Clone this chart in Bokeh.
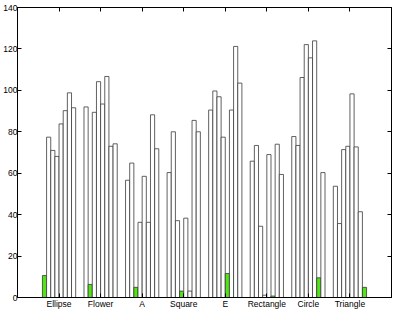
from bokeh.plotting import figure
from bokeh.models import Range1d, FixedTicker, LinearAxis, ColumnDataSource
from bokeh.embed import file_html
from bokeh.resources import INLINE

categories = ["Ellipse", "Flower", "A", "Square", "E", "Rectangle", "Circle", "Triangle"]

# bar j of each group (the j-th bar in group j is the highlighted one)
ellipse   = [10.6, 77.4, 71.0, 68.1, 83.8, 90.2, 98.8, 91.6]
flower    = [92.0, 6.3, 89.4, 104.2, 93.4, 106.7, 73.0, 74.2]
a_shape   = [56.6, 64.9, 4.9, 36.3, 58.5, 36.3, 88.2, 71.8]
square    = [60.3, 80.0, 37.1, 3.1, 38.3, 3.1, 85.5, 80.0]
e_shape   = [90.5, 99.7, 96.9, 77.4, 11.6, 90.5, 121.2, 103.5]
rectangle = [65.8, 73.4, 34.4, 1.1, 69.0, 0.7, 74.0, 59.4]
circle    = [77.7, 73.4, 106.2, 122.1, 115.7, 123.9, 9.5, 60.3]
triangle  = [53.7, 35.7, 71.4, 73.0, 98.3, 72.7, 41.4, 4.9]

y_ticks = [0, 20, 40, 60, 80, 100, 120, 140]

groups = [ellipse, flower, a_shape, square, e_shape, rectangle, circle, triangle]
n = len(categories)
step = 0.1

xs, tops, fills = [], [], []
for i, row in enumerate(groups):
    for j, v in enumerate(row):
        xs.append(i + 1 + (j - (n - 1) / 2) * step)
        tops.append(v)
        fills.append("#50e614" if i == j else "white")

src = ColumnDataSource(dict(x=xs, top=tops, fill=fills))

p = figure(width=393, height=311, output_backend="svg", toolbar_location=None,
           x_range=Range1d(0, 9), y_range=Range1d(0, 140),
           min_border_left=0, min_border_right=2, min_border_top=7, min_border_bottom=0)
p.outline_line_color = "black"
p.outline_line_width = 1
p.xgrid.visible = False
p.ygrid.visible = False
p.background_fill_color = "white"
p.border_fill_color = "white"

p.vbar(x="x", top="top", bottom=0, width=step, fill_color="fill",
       line_color="#3a3a3a", line_width=0.8, source=src)

font = "Liberation Sans"
fs = "8.5px"

p.xaxis.ticker = FixedTicker(ticks=list(range(1, n + 1)))
p.xaxis.major_label_overrides = {i + 1: c for i, c in enumerate(categories)}
p.yaxis.ticker = FixedTicker(ticks=y_ticks)

for ax in (p.xaxis[0], p.yaxis[0]):
    ax.major_tick_in = 4
    ax.major_tick_out = 0
    ax.minor_tick_line_color = None
    ax.axis_line_color = "black"
    ax.major_tick_line_color = "black"
    ax.major_label_text_font = font
    ax.major_label_text_font_size = fs
    ax.major_label_text_color = "black"
p.xaxis.major_label_standoff = 1
p.yaxis.major_label_standoff = 0

top_ax = LinearAxis(ticker=FixedTicker(ticks=list(range(1, n + 1))),
                    major_tick_in=4, major_tick_out=0, minor_tick_line_color=None,
                    major_label_text_color=None, major_label_text_font_size="1px",
                    major_label_standoff=0,
                    axis_line_color="black", major_tick_line_color="black")
right_ax = LinearAxis(ticker=FixedTicker(ticks=y_ticks),
                      major_tick_in=4, major_tick_out=0, minor_tick_line_color=None,
                      major_label_text_color=None, major_label_text_font_size="1px",
                      major_label_standoff=0,
                      axis_line_color="black", major_tick_line_color="black")
p.add_layout(top_ax, "above")
p.add_layout(right_ax, "right")

open("out.html", "w").write(file_html(p, INLINE))
